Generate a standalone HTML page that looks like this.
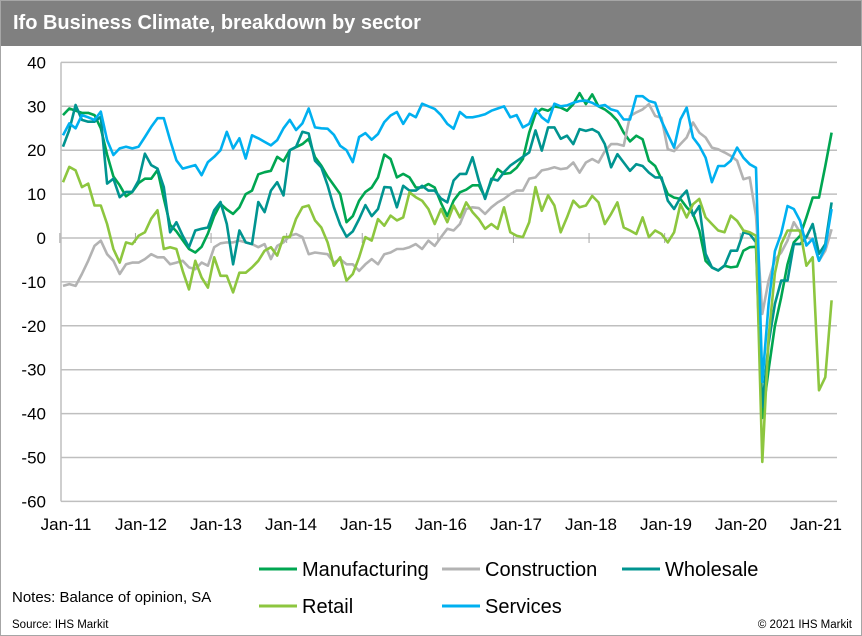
<!DOCTYPE html>
<html><head><meta charset="utf-8">
<style>
html,body{margin:0;padding:0;background:#fff;}
#wrap{position:relative;width:860px;height:634px;border:1px solid #a6a6a6;overflow:hidden;font-family:"Liberation Sans",sans-serif;}
#title{position:absolute;left:0;top:0;width:860px;height:45px;background:#808080;color:#fff;font-weight:bold;font-size:20px;line-height:44px;padding-left:12px;box-sizing:border-box;}
svg{position:absolute;left:0;top:0;}
.note{position:absolute;font-size:14px;color:#000;}
</style></head>
<body>
<div id="wrap">
<div id="title">Ifo Business Climate, breakdown by sector</div>
<svg id="chart" width="862" height="636"></svg>
<div class="note" style="left:11px;top:588px;font-size:15px;">Notes: Balance of opinion, SA</div>
<div class="note" style="left:11px;top:618px;font-size:11.5px;">Source: IHS Markit</div>
<div class="note" style="right:9px;top:618px;font-size:11.5px;">© 2021 IHS Markit</div>
</div>
<script>
const yTicks=[40,30,20,10,0,-10,-20,-30,-40,-50,-60];
const xLabels=["Jan-11","Jan-12","Jan-13","Jan-14","Jan-15","Jan-16","Jan-17","Jan-18","Jan-19","Jan-20","Jan-21"];
const manufacturing=[28,29.5,29,28.5,28.5,28,25,19,14,12,9.5,10.5,12.5,13.5,13.5,15.5,9,3,1.5,-0.5,-2.5,-3.3,-2,1,5,7.8,6.5,5.5,7,10,10.8,14.5,15,15.3,18.5,17.5,20,20.7,21.4,22.6,18.4,16.5,14,12,10,3.6,5,8.5,10.5,11.5,13.8,19,18,13.8,14.6,13.8,11.5,11.5,12.3,11.5,8,5,8.5,10.4,11,12,12,9.3,13,15.7,14.6,14.8,16,18,24,28.3,29.4,29,30,29.7,29,30.5,33,30.5,32.7,30,29.3,28.2,26.7,24,22,23.3,22.5,17.6,16.4,13.4,10,9.2,8.9,7,5.5,1.7,-5.2,-6.7,-7.4,-6.3,-6.7,-6.5,-2.9,-2.1,-2,-41,-30,-20,-13.5,-6,-1,0.5,4.7,9.2,9.2,16.4,24];
const construction=[-10.9,-10.5,-10.9,-8.2,-5.2,-1.8,-0.6,-3.7,-5.2,-8.2,-6,-5.6,-5.6,-4.8,-3.7,-4.4,-4.4,-6,-5.6,-5.2,-6.7,-7.1,-5.6,-6.3,-2.1,-1.2,-1,-1,-0.6,-1,-1.4,-2.1,-1.4,-4.8,-1.8,-1,0.5,0.9,0.2,-3.7,-3.3,-3.5,-3.7,-5.6,-4.8,-6,-6,-7.5,-6,-4.8,-6,-3.7,-3.3,-2.5,-2.5,-2.1,-1.4,-2.5,-0.6,-1.8,0.2,2.1,1.7,3.2,6.6,7,6.8,5.5,7,8.1,8.9,10,10.8,10.8,13.5,13.8,15.4,15.7,16.1,15.7,15.9,17.2,14.9,17.2,18,17.2,19.8,21.4,21.4,21,27.8,28.6,29.3,30.5,27.8,27.4,20.2,19.8,21.4,22.9,26.3,24,22.9,20.6,20.2,19.5,18.7,17.6,13.4,13.8,5,-17.3,-9.7,-5,-3.3,-0.6,3.6,1.3,0.2,-0.4,-5.2,-2.9,2];
const wholesale=[20.8,24.6,30.3,26.9,26.5,26.5,27.6,12.4,13.5,9.3,10.5,10.5,13.1,19.2,16.6,15.8,11.6,1.3,3.6,0.5,-2.1,1.7,2.1,2.4,6.3,8.2,3.2,-6,1.7,-1,-1.4,8.2,5.9,10.8,12.7,9.7,20,20.8,24.2,23.8,17.6,16.1,12,7,3,0.3,1.5,4.3,7.5,5,6.6,11.6,11.5,7,11.9,10.8,10.8,11.9,10.8,10.8,9,8.1,13.1,14.6,14.6,18.4,13.1,8.9,13.5,13.1,15,16.5,17.5,18.5,19.5,24.5,19.9,25.2,25.2,22.6,23.3,21.4,24.8,24.4,24.8,24,21.4,16.1,19.1,17.2,15.3,16.8,16.4,14.9,13.8,13.8,8.5,6.6,9.2,10.8,5.1,7.3,-3.6,-6.7,-7.4,-6.3,-2.9,-2.9,1.3,0.9,-1,-38.5,-24,-15,-9.7,-9.7,-1.4,-1.4,0.2,3.2,-3.6,-1.4,8.1];
const retail=[12.7,16.2,15.4,11.6,12.4,7.4,7.4,3.2,-2.5,-5.6,-1,-1.4,0.5,1.3,4.4,6.3,-2.5,-2.1,-2.5,-7.5,-11.7,-5.2,-9,-11.3,-4.4,-8.6,-8.6,-12.4,-7.9,-7.9,-6.7,-5.2,-2.9,-2.1,-4,0.2,0.2,4.4,7,7.4,4,2.4,-1,-6.3,-4.4,-9.7,-8.2,-4.4,0.2,-0.6,4.3,2.8,5.1,4,4.7,10.4,9.3,8.5,6.6,3.2,6.6,3.6,7.4,4.7,8.1,5.9,4.3,2.1,3.2,2.1,7,1.3,0.5,0.2,3.6,11.6,6.2,9.7,7.4,1.3,4.7,8.5,7,7.4,9.6,8.1,3.2,5.5,8.1,2.4,1.7,0.9,4.7,0.2,1.7,0.9,-1,1.3,7.7,4.7,7.7,8.9,4.7,3.2,1.7,1.3,5.1,3.9,1.7,1.3,0.5,-51,-22.6,-8,-1.4,1.7,1.7,1.7,-6.3,-4.4,-34.7,-31.7,-14.2];
const services=[23.4,26.1,25,28,27.5,26.9,28.8,22.3,18.9,20.4,20.8,20.4,20.8,23,25.3,27.3,27.3,22.3,17.7,15.8,16.2,16.6,14.3,17.3,18.5,20,24.2,20.4,22.7,18.1,23.4,22.7,21.9,21.1,22.3,25,26.9,24.6,26.1,29.5,25.2,25,24.9,23.5,21,20,17.3,23,23.9,22.4,23.7,26.4,27.9,28.7,26,28.3,27.5,30.6,30,29.4,28,26,24.9,28.7,27.5,27.5,27.8,28.2,29,29.5,30,27.5,28,25.2,26,29.4,27.5,26.4,30.6,30,30.2,30.8,31.2,31.3,30.8,30,30.3,29.3,28.9,27,27,32.3,32.3,31.2,30.8,26.7,23.6,20.6,27,29.7,22.9,21,18.3,12.7,16.4,16.4,17.6,20.6,18.3,16.8,16,-32.8,-15,-3,1,7.3,6.6,3.9,-1.7,-0.2,-5.2,-2.1,6.6];

const NS="http://www.w3.org/2000/svg";
const svg=document.getElementById('chart');
const X0=62,STEP=6.3,PL=60,PR=836;
const yAt=v=>237-v*4.39;
const xAt=i=>X0+i*STEP;
function mk(tag,attrs){const e=document.createElementNS(NS,tag);for(const k in attrs)e.setAttribute(k,attrs[k]);svg.appendChild(e);return e;}
yTicks.forEach(t=>{
  const g=mk('line',{x1:PL,x2:PR,y1:yAt(t),y2:yAt(t),stroke:'#bfbfbf','stroke-width':1.5});
  
  
  const tx=mk('text',{x:45,y:yAt(t)+6,'text-anchor':'end','font-size':17,'font-family':'Liberation Sans, sans-serif',fill:'#000'});
  tx.textContent=t;
  
  
});
const ax=mk('line',{x1:PL,x2:PL,y1:yAt(40),y2:yAt(-60),stroke:'#bfbfbf','stroke-width':1.5});


xLabels.forEach((l,k)=>{
  const tk=mk('line',{x1:xAt(12*k-0.5),x2:xAt(12*k-0.5),y1:232,y2:242,stroke:'#a6a6a6','stroke-width':1});
  
  
  const tx=mk('text',{x:65+75*k,y:529,'text-anchor':'middle','font-size':17,'font-family':'Liberation Sans, sans-serif',fill:'#000'});
  tx.textContent=l;
  
  
});
const series=[["manufacturing",manufacturing,"#00a651"],["construction",construction,"#b3b3b3"],["wholesale",wholesale,"#009490"],["retail",retail,"#8dc63f"],["services",services,"#00b0f0"]];
series.forEach(s=>{
  const d=s[1].map((v,i)=>(i?'L':'M')+xAt(i).toFixed(1)+' '+yAt(v).toFixed(1)).join(' ');
  const p=mk('path',{d:d,fill:'none',stroke:s[2],'stroke-width':2.6,'stroke-linejoin':'round'});
  
  
});
const leg=[["Manufacturing","#00a651",258,568],["Construction","#b3b3b3",441,568],["Wholesale","#009490",621,568],["Retail","#8dc63f",258,605],["Services","#00b0f0",441,605]];
leg.forEach(l=>{
  const ln=mk('line',{x1:l[2],x2:l[2]+38,y1:l[3],y2:l[3],stroke:l[1],'stroke-width':3});
  
  
  const tx=mk('text',{x:l[2]+43,y:l[3]+7,'font-size':20,'font-family':'Liberation Sans, sans-serif',fill:'#000'});
  tx.textContent=l[0];
  
  
});
</script>
</body></html>
